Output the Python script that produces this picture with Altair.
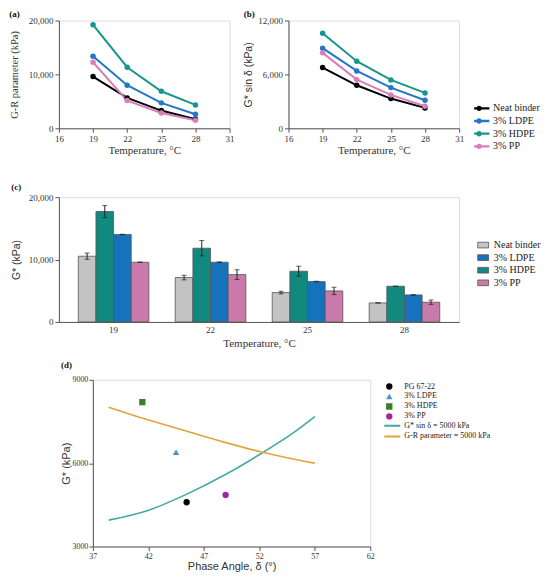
import altair as alt
import pandas as pd

# ---------------- data ----------------
temps = [19, 22, 25, 28]
mix_names = ["Neat binder", "3% LDPE", "3% HDPE", "3% PP"]
bar_order = ["Neat binder", "3% HDPE", "3% LDPE", "3% PP"]

# (a) G-R parameter (kPa)
gr_neat = [9600, 5640, 3290, 1670]
gr_ldpe = [13370, 7990, 4720, 2600]
gr_hdpe = [19200, 11330, 6870, 4340]
gr_pp = [12260, 5140, 2850, 1490]

# (b) G* sin delta (kPa)
gs_neat = [6760, 4790, 3310, 2270]
gs_ldpe = [8920, 6390, 4530, 3120]
gs_hdpe = [10590, 7470, 5390, 3940]
gs_pp = [8400, 5420, 3720, 2450]

# (c) G* (kPa) with error
gstar_neat = [10535, 7110, 4710, 3050]
gstar_ldpe = [14010, 9570, 6470, 4330]
gstar_hdpe = [17700, 11820, 8130, 5720]
gstar_pp = [9570, 7590, 4970, 3160]
err_neat = [500, 370, 210, 0]
err_ldpe = [30, 50, 50, 30]
err_hdpe = [960, 1230, 800, 0]
err_pp = [0, 780, 590, 350]

# (d) black-space points
pt_names = ["PG 67-22", "3% LDPE", "3% HDPE", "3% PP"]
pt_delta = [45.45, 44.5, 41.46, 48.96]
pt_gstar = [4593, 6390, 8197, 4854]
curve_names = ["G* sin δ = 5000 kPa", "G-R parameter = 5000 kPa"]
curve_delta = [38.43, 41.96, 45.47, 48.99, 52.2, 55.15, 57.0]
curve_teal = [3949, 4299, 4886, 5600, 6356, 7120, 7678]
curve_orange = [8017, 7560, 7150, 6740, 6400, 6140, 6000]

# ---------------- styles ----------------
SERIF = "Liberation Serif"
SANS = "Liberation Sans"
AXC = "#555555"
TXT = "#333333"
line_colors = ["#000000", "#2277c6", "#17968e", "#d67fbb"]
bar_colors = ["#c3c3c3", "#1672bd", "#12897f", "#c97aab"]
pt_colors = ["#000000", "#4a8fc9", "#3d7d2e", "#a4279f"]
pt_shapes = ["circle", "triangle-up", "square", "circle"]
curve_colors = ["#44a8a4", "#e2a43a"]

LINEDOT = "M-2.06,-0.23H2.06V0.23H-2.06ZM0.54,0A0.54,0.54,0,1,1,-0.54,0A0.54,0.54,0,1,1,0.54,0Z"
SHORTLINE = "M-2.75,0H2.75"
FLATRECT = "M-1,-0.52H1V0.52H-1Z"

def panel_title(t, offset=0):
    return alt.TitleParams(t, anchor="start", frame="bounds", font=SERIF, fontSize=9,
                           fontWeight="bold", color="#111111", offset=offset)

def ax(**kw):
    base = dict(grid=False, domainColor=AXC, tickColor=AXC, labelColor=TXT, titleColor=TXT,
                labelFont=SERIF, labelFontSize=9, titleFontWeight="normal", labelFlush=False,
                tickSize=4, labelPadding=2)
    base.update(kw)
    return alt.Axis(**base)

# ---------------- (a) & (b) ----------------
rows = []
for name, gr, gs in zip(mix_names, [gr_neat, gr_ldpe, gr_hdpe, gr_pp], [gs_neat, gs_ldpe, gs_hdpe, gs_pp]):
    for t, v1, v2 in zip(temps, gr, gs):
        rows.append({"mix": name, "temp": t, "gr": v1, "gs": v2})
df_ab = pd.DataFrame(rows)

xT = alt.X("temp:Q", scale=alt.Scale(domain=[16, 31], nice=False),
           axis=ax(values=[16, 19, 22, 25, 28, 31], title="Temperature, °C", titleFont=SERIF,
                   titleFontSize=11, titlePadding=1))

def line_panel(field, ymax, yvals, ytitle, yfont, tpad, title, legend):
    base = alt.Chart(df_ab)
    y = alt.Y(f"{field}:Q", scale=alt.Scale(domain=[0, ymax], nice=False),
              axis=ax(values=yvals, format=",.0f", title=ytitle, titleFont=yfont, titleFontSize=10.5,
                      titlePadding=tpad))
    lines = base.mark_line(strokeWidth=2).encode(
        x=xT, y=y,
        stroke=alt.Stroke("mix:N", scale=alt.Scale(domain=mix_names, range=line_colors), legend=legend),
        detail="mix:N")
    pts = base.mark_circle(size=30, opacity=1).encode(
        x=xT, y=y,
        fill=alt.Fill("mix:N", scale=alt.Scale(domain=mix_names, range=line_colors), legend=legend))
    return alt.layer(lines, pts).properties(width=171, height=108, title=panel_title(title, -2))

leg_b = alt.Legend(title=None, orient="none", legendX=186, legendY=83, symbolType=LINEDOT,
                   symbolSize=100, symbolStrokeWidth=0, labelFont=SERIF, labelFontSize=10,
                   labelColor="#222222", labelOffset=9, rowPadding=2.7, clipHeight=10)

pa = line_panel("gr", 20000, [0, 10000, 20000], "G-R parameter (kPa)", SERIF, 9, "(a)", None)
pb = line_panel("gs", 12000, [0, 6000, 12000], "G* sin δ (kPa)", SANS, 4, "(b)", leg_b)

row1 = alt.concat(pa, pb, columns=2, spacing=8, align="none").resolve_scale(
    fill="independent", stroke="independent")

# ---------------- (c) ----------------
rows = []
for name, vals, errs in zip(mix_names, [gstar_neat, gstar_ldpe, gstar_hdpe, gstar_pp],
                            [err_neat, err_ldpe, err_hdpe, err_pp]):
    for t, v, e in zip(temps, vals, errs):
        rows.append({"mix": name, "temp": str(t), "g": v, "lo": v - e, "hi": v + e})
df_c = pd.DataFrame(rows)

xC = alt.X("temp:N", sort=[str(t) for t in temps],
           scale=alt.Scale(paddingInner=0.272, paddingOuter=0.2),
           axis=ax(title="Temperature, °C", titleFont=SERIF, titleFontSize=11, labelAngle=0,
                   ticks=False, labelPadding=4, titlePadding=3))
xoC = alt.XOffset("mix:N", sort=bar_order, scale=alt.Scale(paddingInner=0, paddingOuter=0))
yC = alt.Y("g:Q", scale=alt.Scale(domain=[0, 20000], nice=False),
           axis=ax(values=[0, 10000, 20000], format=",.0f", title="G* (kPa)", titleFont=SANS,
                   titleFontSize=10.5, titlePadding=7))

leg_c = alt.Legend(title=None, orient="none", legendX=419, legendY=42.5, symbolType=FLATRECT,
                   symbolSize=121, symbolStrokeWidth=0.8,
                   labelFont=SERIF, labelFontSize=10, labelColor="#222222", labelOffset=4.7,
                   rowPadding=1.6, clipHeight=11)

base_c = alt.Chart(df_c)
bars = base_c.mark_bar(strokeWidth=0.8).encode(
    x=xC, xOffset=xoC, y=yC,
    fill=alt.Fill("mix:N", scale=alt.Scale(domain=mix_names, range=bar_colors), legend=leg_c),
    stroke=alt.Stroke("mix:N", scale=alt.Scale(domain=mix_names, range=["#555555"] * 4), legend=leg_c))
rule = base_c.mark_rule(color="#222222", strokeWidth=1).encode(
    x=xC, xOffset=xoC, y=alt.Y("lo:Q"), y2="hi:Q")
cap_hi = base_c.mark_tick(color="#222222", thickness=1, size=5).encode(x=xC, xOffset=xoC, y=alt.Y("hi:Q"))
cap_lo = base_c.mark_tick(color="#222222", thickness=1, size=5).encode(x=xC, xOffset=xoC, y=alt.Y("lo:Q"))
pc = alt.layer(bars, rule, cap_hi, cap_lo).properties(width=401, height=125, title=panel_title("(c)", 1))

# ---------------- (d) ----------------
df_pts = pd.DataFrame({"name": pt_names, "delta": pt_delta, "g": pt_gstar})
rows = []
for cname, vals in zip(curve_names, [curve_teal, curve_orange]):
    for d, v in zip(curve_delta, vals):
        rows.append({"curve": cname, "delta": d, "g": v})
df_curves = pd.DataFrame(rows)

xD = alt.X("delta:Q", scale=alt.Scale(domain=[37, 62], nice=False),
           axis=ax(values=[37, 42, 47, 52, 57, 62], title="Phase Angle, δ (°)", titleFont=SANS,
                   titleFontSize=11, labelFontSize=8, titlePadding=0))
yD = alt.Y("g:Q", scale=alt.Scale(domain=[3000, 9000], nice=False),
           axis=ax(values=[3000, 6000, 9000], format="d", title="G* (kPa)", titleFont=SANS,
                   titleFontSize=11, labelFontSize=8, titlePadding=0, labelPadding=1))

leg_pts = alt.Legend(title=None, orient="none", legendX=293, legendY=2.7, symbolSize=40,
                     labelFont=SERIF, labelFontSize=8, labelColor="#222222", labelOffset=11,
                     rowPadding=2, symbolStrokeWidth=0, clipHeight=8)
leg_lines = alt.Legend(title=None, orient="none", legendX=292, legendY=42, symbolType=SHORTLINE,
                       symbolSize=64, symbolStrokeWidth=2, labelFont=SERIF, labelFontSize=8,
                       labelColor="#222222", labelOffset=10, rowPadding=2.7, clipHeight=8)

curves = alt.Chart(df_curves).mark_line(strokeWidth=1.6, interpolate="monotone").encode(
    x=xD, y=yD,
    stroke=alt.Stroke("curve:N", scale=alt.Scale(domain=curve_names, range=curve_colors), legend=leg_lines),
    detail="curve:N")
points = alt.Chart(df_pts).mark_point(filled=True, size=40, opacity=1).encode(
    x=xD, y=yD,
    color=alt.Color("name:N", scale=alt.Scale(domain=pt_names, range=pt_colors), legend=leg_pts),
    shape=alt.Shape("name:N", scale=alt.Scale(domain=pt_names, range=pt_shapes), legend=leg_pts))
pd_chart = alt.layer(curves, points).properties(width=278, height=167, title=panel_title("(d)", 6))

spacer = alt.Chart(pd.DataFrame({"v": [0]})).mark_point(opacity=0, size=0).encode(
    x=alt.X("v:Q", axis=None), y=alt.Y("v:Q", axis=None)).properties(
    width=1, height=10, view=alt.ViewBackground(stroke="transparent", strokeWidth=0))

row3 = alt.concat(spacer, pd_chart, columns=2, spacing=0, align="none").resolve_scale(
    color="independent", shape="independent", stroke="independent")

top = alt.concat(row1, pc, columns=1, spacing=26, align="none").resolve_scale(
    fill="independent", stroke="independent")
chart = alt.concat(top, row3, columns=1, spacing=10, align="none").resolve_scale(
    fill="independent", stroke="independent", color="independent", shape="independent"
).properties(padding=0).configure_view(strokeWidth=0, stroke="transparent").configure(font=SERIF)

chart.save("out.html", embed_options={"renderer": "svg", "actions": False})
